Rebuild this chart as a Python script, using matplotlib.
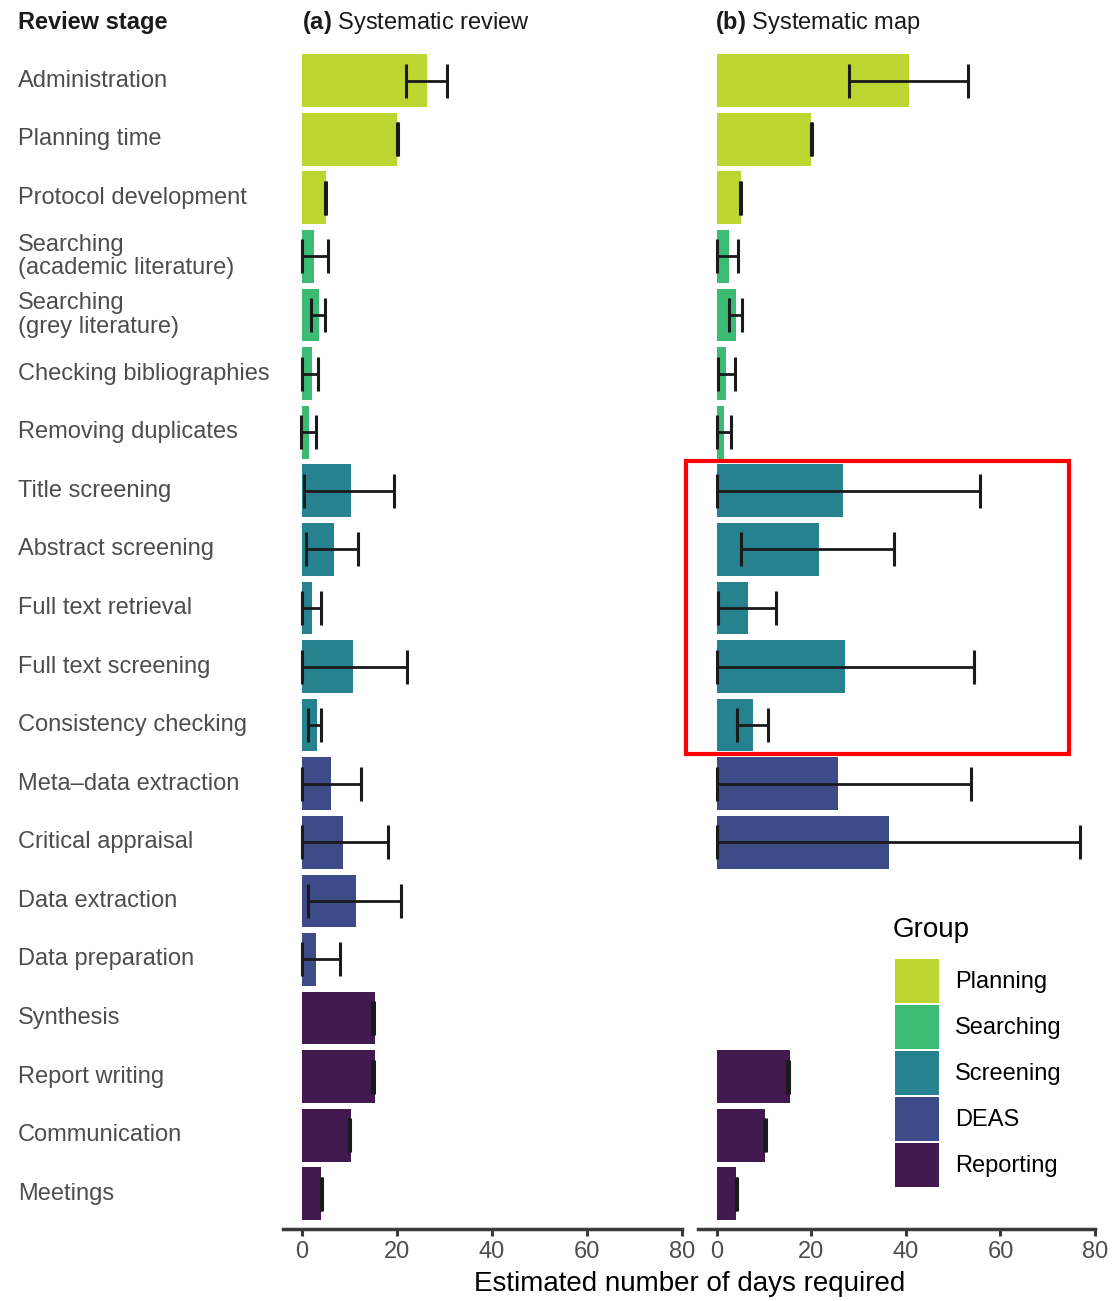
import numpy as np
import matplotlib
matplotlib.use("Agg")
import matplotlib.pyplot as plt
from matplotlib.patches import Patch, Rectangle

plt.rcParams['font.family'] = ['Liberation Sans', 'DejaVu Sans']
plt.rcParams['mathtext.fontset'] = 'custom'
plt.rcParams['mathtext.bf'] = 'Liberation Sans:bold'
plt.rcParams['mathtext.rm'] = 'Liberation Sans'

# Review stages (top to bottom) and their group
stages = ['Administration', 'Planning time', 'Protocol development',
          'Searching\n(academic literature)', 'Searching\n(grey literature)',
          'Checking bibliographies', 'Removing duplicates',
          'Title screening', 'Abstract screening', 'Full text retrieval',
          'Full text screening', 'Consistency checking',
          'Meta\u2013data extraction', 'Critical appraisal', 'Data extraction',
          'Data preparation', 'Synthesis', 'Report writing', 'Communication',
          'Meetings']
groups = ['Planning'] * 3 + ['Searching'] * 4 + ['Screening'] * 5 + \
         ['DEAS'] * 4 + ['Reporting'] * 4

group_names = ['Planning', 'Searching', 'Screening', 'DEAS', 'Reporting']
group_colors = ['#bdd531', '#3cbb75', '#26828e', '#3d4b88', '#431a4f']

# (a) Systematic review: mean, lower, upper (days)
sr_mean = [26.3, 20.1, 5.15, 2.5, 3.6, 2.05, 1.55, 10.3, 6.7, 2.05,
           10.8, 3.1, 6.2, 8.7, 11.3, 3.0, 15.4, 15.4, 10.3, 4.1]
sr_low = [21.8, 19.9, 4.9, 0.0, 1.8, 0.1, -0.2, 0.4, 0.85, -0.1,
          0.0, 1.35, 0.0, 0.0, 1.3, 0.0, 14.8, 14.8, 9.8, 4.0]
sr_high = [30.6, 20.2, 5.1, 5.4, 4.9, 3.4, 2.9, 19.4, 11.8, 3.9,
           22.0, 4.0, 12.5, 18.0, 20.8, 7.9, 15.1, 15.1, 10.0, 4.2]

# (b) Systematic map: mean, lower, upper (days); nan = stage not applicable
sm_mean = [40.6, 20.0, 5.1, 2.5, 4.0, 2.0, 1.5, 26.7, 21.5, 6.6,
           27.2, 7.6, 25.6, 36.4, np.nan, np.nan, np.nan, 15.4, 10.2, 4.0]
sm_low = [28.0, 19.9, 4.9, 0.0, 2.6, 0.15, 0.0, 0.0, 5.2, 0.2,
          0.0, 4.3, 0.0, 0.0, np.nan, np.nan, np.nan, 14.9, 10.0, 4.0]
sm_high = [53.2, 20.1, 5.1, 4.5, 5.4, 3.8, 2.9, 55.7, 37.5, 12.5,
           54.4, 10.8, 53.7, 76.8, np.nan, np.nan, np.nan, 15.2, 10.3, 4.3]

W, H = 1112, 1301
fig = plt.figure(figsize=(W / 100, H / 100), dpi=100)


def fx(px):
    return px / W


def fy(py):
    return 1 - py / H


bottom = fy(1229)
height = fy(45.5) - bottom
ax1 = fig.add_axes([fx(283), bottom, fx(682) - fx(283), height])
ax2 = fig.add_axes([fx(698), bottom, fx(1095) - fx(698), height])

ypos = np.arange(len(stages))
cmap = dict(zip(group_names, group_colors))
colors = [cmap[g] for g in groups]

for ax, mean, lo, hi in [(ax1, sr_mean, sr_low, sr_high),
                         (ax2, sm_mean, sm_low, sm_high)]:
    mean = np.array(mean)
    lo = np.array(lo)
    hi = np.array(hi)
    ok = ~np.isnan(mean)
    ax.barh(ypos[ok], mean[ok], height=0.9,
            color=[c for c, k in zip(colors, ok) if k], zorder=2)
    mid = (lo + hi) / 2
    half = (hi - lo) / 2
    ax.errorbar(mid[ok], ypos[ok], xerr=half[ok], fmt='none',
                ecolor='#1a1a1a', elinewidth=2, capsize=12.5, capthick=2.2,
                zorder=3)
    ax.set_xlim(-4, 80)
    ax.set_ylim(19.6, -0.6)
    ax.set_xticks([0, 20, 40, 60, 80])
    ax.tick_params(axis='x', length=5, width=2.2, color='#3a3a3a',
                   labelsize=17, labelcolor='#4d4d4d', pad=4)
    for s in ['top', 'right', 'left']:
        ax.spines[s].set_visible(False)
    ax.spines['bottom'].set_linewidth(2.5)
    ax.spines['bottom'].set_color('#3a3a3a')

ax1.set_yticks(ypos)
ax1.set_yticklabels(stages, fontsize=17, color='#4d4d4d', ha='left',
                    va='center', linespacing=1.1)
ax1.tick_params(axis='y', length=0, pad=(283 - 18) * 0.72)
ax2.set_yticks([])

# Header texts
fig.text(fx(18), fy(22), 'Review stage', fontsize=17, fontweight='bold',
         color='#1a1a1a', ha='left', va='center')
fig.text(fx(302), fy(22), r'$\bf{(a)}$ Systematic review', fontsize=17,
         color='#1a1a1a', ha='left', va='center')
fig.text(fx(715), fy(22), r'$\bf{(b)}$ Systematic map', fontsize=17,
         color='#1a1a1a', ha='left', va='center')

fig.text(fx(690), fy(1284), 'Estimated number of days required',
         fontsize=20, color='black', ha='center', va='center')

# Legend (title drawn separately to get the ggplot-like gap)
fig.text(fx(893), fy(930), 'Group', fontsize=20, color='black',
         ha='left', va='center')
handles = [Patch(facecolor=c, edgecolor='none') for c in group_colors]
fig.legend(handles, group_names, loc='upper left',
           bbox_to_anchor=(fx(895), fy(959)), frameon=False,
           fontsize=17, handlelength=1.86, handleheight=2.49,
           labelspacing=0.08, handletextpad=0.68,
           borderpad=0, borderaxespad=0)

# Red highlight box around the screening stages of panel (b)
ax2.add_patch(Rectangle((-6.6, 6.5), 81.1, 5.0, fill=False,
                        edgecolor='red', linewidth=3, clip_on=False,
                        zorder=5))

fig.savefig('out.png', dpi=100)
